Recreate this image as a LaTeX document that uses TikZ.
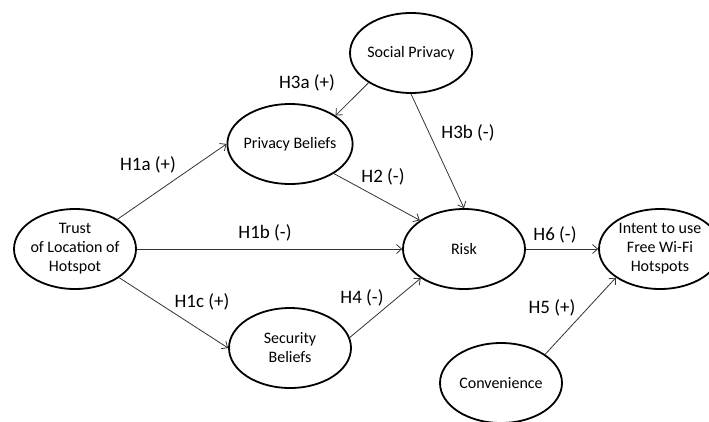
\documentclass[tikz,border=0pt]{standalone}
\usepackage{fontspec}
\setmainfont{Carlito}
\usetikzlibrary{shapes.geometric,arrows.meta}

\tikzset{
  construct/.style={ellipse,draw,line width=1.8pt,minimum width=122pt,
    minimum height=80pt,inner sep=-2pt,align=center,
    font=\fontsize{16}{19}\selectfont},
  link/.style={-{Straight Barb[length=5pt,width=9pt]},line width=0.8pt,
    draw=black!80},
  hyp/.style={font=\fontsize{19}{23}\selectfont}
}

\begin{document}
\begin{tikzpicture}[x=1pt,y=-1pt]
  \clip (0,0) rectangle (709,421);
  % constructs
  \node[construct] (social)   at (411,53)  {Social Privacy};
  \node[construct] (privacy)  at (290,144) {Privacy Beliefs};
  \node[construct] (trust)    at (75,249)  {Trust\\of Location of\\Hotspot};
  \node[construct] (security) at (290,348) {Security\\Beliefs};
  \node[construct] (risk)     at (464,249) {Risk};
  \node[construct] (intent)   at (660,249) {Intent to use\\Free Wi-Fi\\Hotspots};
  \node[construct] (conv)     at (501,383) {Convenience};
  % hypotheses
  \draw[link] (trust.35)   -- (privacy.west);
  \draw[link] (trust.east) -- (risk.west);
  \draw[link] (trust.-33)  -- (security.west);
  \draw[link] (social.215) -- (privacy.32);
  \draw[link] (social.south) -- (risk.north);
  \draw[link] (privacy.-34) -- (risk.147);
  \draw[link] (security.10) -- (risk.214);
  \draw[link] (risk.east)  -- (intent.west);
  \draw[link] (conv.33)    -- (intent.213);
  % labels
  \node[hyp] (h3a) at (307,83)  {H3a (+)};
  \node[hyp] (h1a) at (148,165) {H1a (+)};
  \node[hyp] (h3b) at (468,133) {H3b (-)};
  \node[hyp] (h2)  at (383,177) {H2 (-)};
  \node[hyp] (h1b) at (265,233) {H1b (-)};
  \node[hyp] (h1c) at (202,302) {H1c (+)};
  \node[hyp] (h4)  at (362,298) {H4 (-)};
  \node[hyp] (h6)  at (555,235) {H6 (-)};
  \node[hyp] (h5)  at (552,308) {H5 (+)};
\end{tikzpicture}
\end{document}
